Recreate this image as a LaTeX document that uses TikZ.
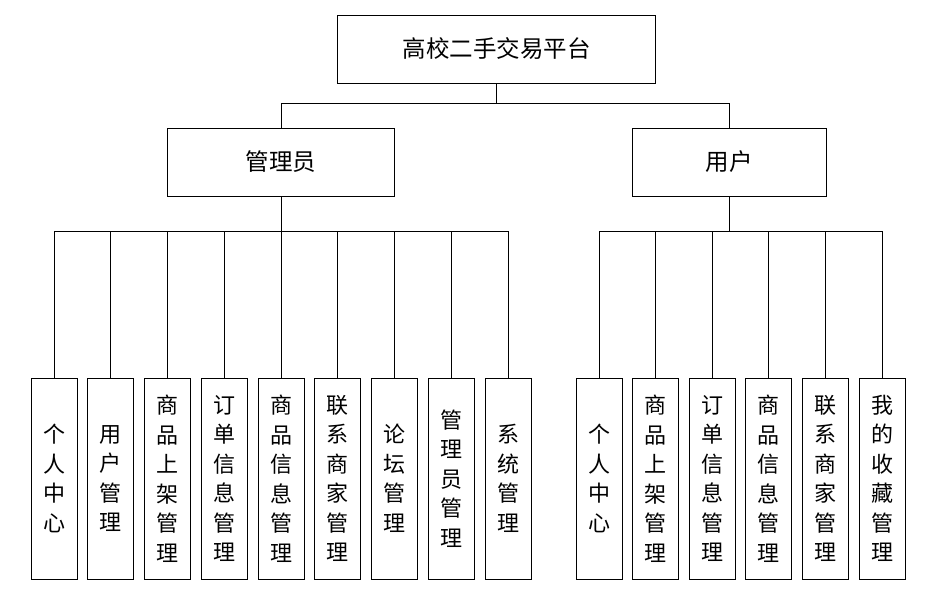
\documentclass[tikz,border=0pt]{standalone}
\usepackage{fontspec}
\setmainfont{Noto Sans CJK SC}
\usetikzlibrary{positioning}

\begin{document}
\begin{tikzpicture}[x=1pt, y=-1pt, line width=0.8pt,
  box/.style={draw, fill=white, minimum width=#1, minimum height=68pt, inner sep=0pt, font=\fontsize{23.5}{29}\selectfont},
  box/.default=227pt,
  leaf/.style={draw, fill=white, minimum width=46pt, minimum height=201pt, inner sep=0pt, align=center, font=\fontsize{22}{29.5}\selectfont}]
\useasboundingbox (0,0) rectangle (939,593);
\node[box=318pt] (root) at (496.5,49) {高校二手交易平台};
\node[box] (admin) at (281,162) {管理员};
\node[box=194pt] (user) at (729,162) {用户};
\coordinate (top) at (496.5,103);
\coordinate (abus) at (281,231);
\coordinate (ubus) at (729,231);
\draw (root.south) -- (top);
\draw (admin.north) |- (top);
\draw (user.north) |- (top);
\draw (admin.south) -- (abus);
\draw (user.south) -- (ubus);
% administrator functions
\foreach \txt [count=\i] in {{个\\人\\中\\心}, {用\\户\\管\\理}, {商\\品\\上\\架\\管\\理}, {订\\单\\信\\息\\管\\理}, {商\\品\\信\\息\\管\\理}, {联\\系\\商\\家\\管\\理}, {论\\坛\\管\\理}, {管\\理\\员\\管\\理}, {系\\统\\管\\理}}{
  \node[leaf] (a\i) at ({54+56.75*(\i-1)},478.5) {\txt};
  \draw (a\i.north) |- (abus);
}
% user functions
\foreach \txt [count=\i] in {{个\\人\\中\\心}, {商\\品\\上\\架\\管\\理}, {订\\单\\信\\息\\管\\理}, {商\\品\\信\\息\\管\\理}, {联\\系\\商\\家\\管\\理}, {我\\的\\收\\藏\\管\\理}}{
  \node[leaf] (u\i) at ({599+56.6*(\i-1)},478.5) {\txt};
  \draw (u\i.north) |- (ubus);
}
\end{tikzpicture}
\end{document}
